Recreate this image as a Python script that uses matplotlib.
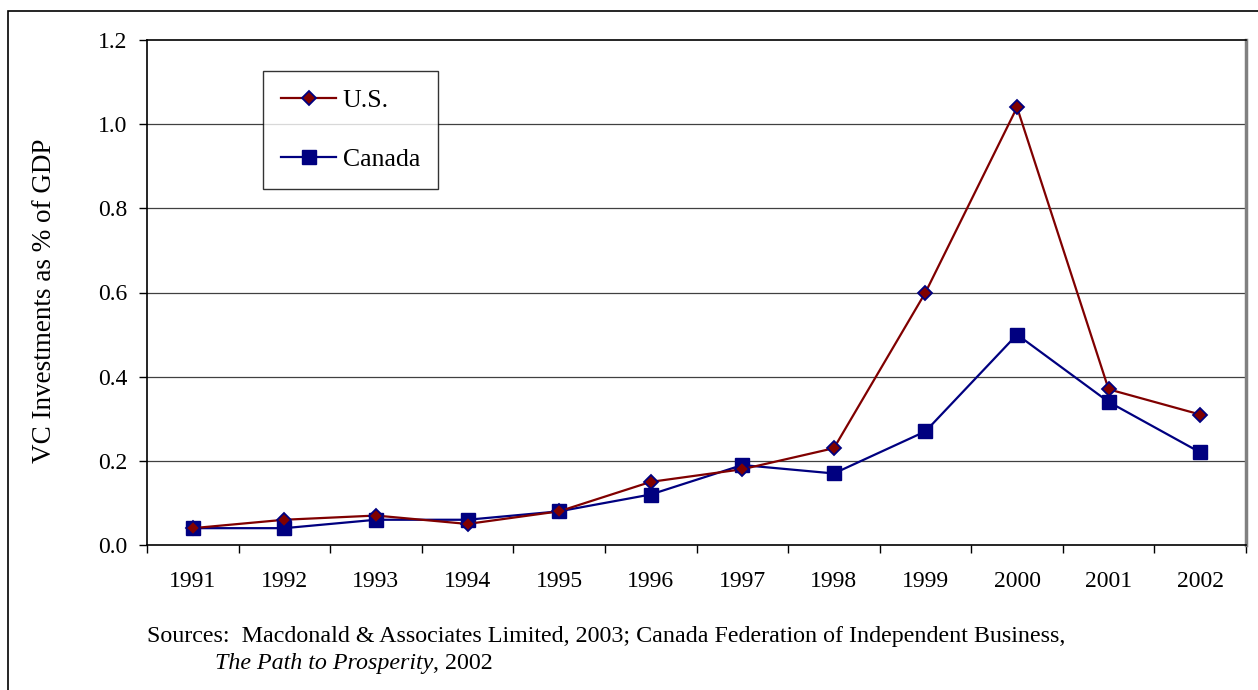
import matplotlib.pyplot as plt
from matplotlib.patches import Rectangle
from matplotlib.lines import Line2D

years = ['1991', '1992', '1993', '1994', '1995', '1996',
         '1997', '1998', '1999', '2000', '2001', '2002']
us_vals = [0.04, 0.06, 0.07, 0.05, 0.08, 0.15, 0.18, 0.23, 0.60, 1.04, 0.37, 0.31]
canada_vals = [0.04, 0.04, 0.06, 0.06, 0.08, 0.12, 0.19, 0.17, 0.27, 0.50, 0.34, 0.22]
y_ticks = [0.0, 0.2, 0.4, 0.6, 0.8, 1.0, 1.2]

plt.rcParams['font.family'] = ['Liberation Serif', 'DejaVu Serif']

W, H = 1258, 690
fig = plt.figure(figsize=(W / 100, H / 100), dpi=100)
ax = fig.add_axes([147 / W, 1 - 545 / H, (1246 - 147) / W, (545 - 40) / H])

x = list(range(1, len(years) + 1))

red = '#800000'
navy = '#000080'

ax.plot(x, us_vals, color=red, lw=1.6, marker='D', ms=7.5,
        markerfacecolor=red, markeredgecolor=navy, markeredgewidth=1.3, zorder=4)
ax.plot(x, canada_vals, color=navy, lw=1.6, marker='s', ms=10,
        markerfacecolor=navy, markeredgecolor=navy, zorder=3)

ax.set_xlim(0.5, len(years) + 0.5)
ax.set_ylim(0, 1.2)
ax.set_yticks(y_ticks)
ax.set_yticklabels(['%.1f' % v for v in y_ticks])
ax.set_xticks([i + 0.5 for i in range(0, len(years) + 1)])
ax.set_xticklabels([])
ax.set_xticks(x, minor=True)
ax.set_xticklabels(years, minor=True)
ax.tick_params(axis='x', which='major', direction='out', length=6, width=1)
ax.tick_params(axis='x', which='minor', length=0, pad=19, labelsize=17)
ax.tick_params(axis='y', direction='out', length=6, width=1, labelsize=17, pad=8)

for yv in y_ticks[1:-1]:
    ax.axhline(yv, color='#404040', lw=0.9, zorder=1)

ax.spines['left'].set_linewidth(1.2)
ax.spines['bottom'].set_linewidth(1.2)
ax.spines['top'].set_linewidth(1.2)
ax.spines['right'].set_color('#808080')
ax.spines['right'].set_linewidth(2.5)

ax.set_ylabel('VC Investments as % of GDP', fontsize=19.5, va='center')
ax.yaxis.set_label_coords((45 - 147) / 1099, (545 - 301) / 505)

handles = [
    Line2D([], [], color=red, lw=1.6, marker='D', ms=7.5, markerfacecolor=red,
           markeredgecolor=navy, markeredgewidth=1.3),
    Line2D([], [], color=navy, lw=1.6, marker='s', ms=10, markerfacecolor=navy,
           markeredgecolor=navy),
]
leg = ax.legend(handles, ['U.S.', 'Canada'], loc='upper left',
                bbox_to_anchor=((263 - 147) / 1099, (545 - 71) / 505),
                prop={'size': 18.5}, frameon=True, fancybox=False, edgecolor='black',
                borderpad=0.7, labelspacing=1.4, handlelength=2.15,
                handletextpad=0.25, borderaxespad=0)
leg.get_frame().set_linewidth(1.0)

# outer frame
fig.add_artist(Rectangle((8 / W, -0.1), 1.2, 1 - 11 / H + 0.1,
                         transform=fig.transFigure, fill=False,
                         edgecolor='black', lw=1.2))

fig.text(147 / W, 1 - 642 / H,
         'Sources:  Macdonald & Associates Limited, 2003; Canada Federation of Independent Business,',
         fontsize=17.3, va='baseline')
t2 = fig.text(215 / W, 1 - 669 / H, 'The Path to Prosperity',
              fontsize=17.3, style='italic', va='baseline')
ax.annotate(', 2002', xy=(1, 0), xycoords=t2, fontsize=17.3, va='bottom')

fig.savefig('out.png', dpi=100)
